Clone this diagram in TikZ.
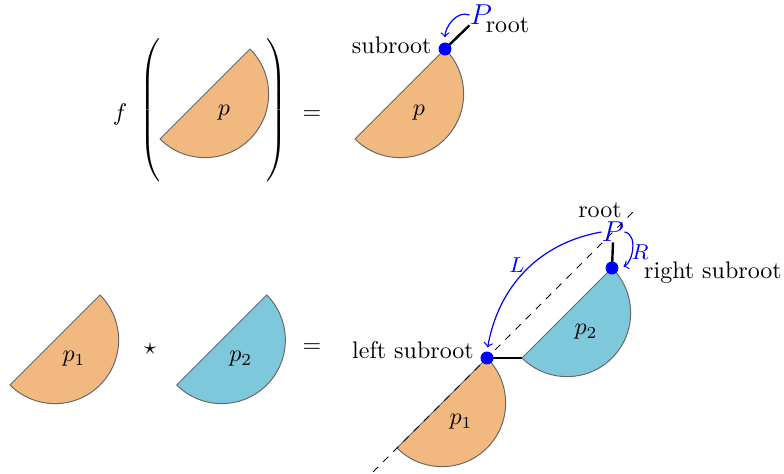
\documentclass[tikz,border=0pt]{standalone}
\usetikzlibrary{calc}
\definecolor{porange}{RGB}{241,185,128}
\definecolor{pblue}{RGB}{126,200,220}
\newcommand\halfdisk[4]{%
  \coordinate (#1) at (#2);
  \filldraw[piece,fill=#3] (#1) arc[start angle=45,end angle=-135,radius=63.64] -- cycle;
  \node (#1lbl) at ($(#1)+(-26,-64)$) {$#4$};
}
\begin{document}
\begin{tikzpicture}[x=0.41667pt,y=0.41667pt,
  dot/.style={circle,fill=blue,inner sep=0pt,minimum size=5.4pt},
  edge/.style={line width=1pt},
  ptr/.style={->,blue,line width=0.5pt},
  piece/.style={draw=black!60,line width=0.4pt},
  lbl/.style={inner sep=0pt},
  bigP/.style={text=blue,font=\large,inner sep=0pt},
  smallblue/.style={text=blue,font=\small,inner sep=0pt},
]
\useasboundingbox (0,0) rectangle (784,474);
% ---------- top row ----------
\node[lbl] (f) at (120,359) {$f$};
\node[lbl] (lp) at (151,362) {$\left(\rule[-29pt]{0pt}{58pt}\right.$};
\node[lbl] (rp) at (276,362) {$\left.\rule[-29pt]{0pt}{58pt}\right)$};
\halfdisk{A}{250,425}{porange}{p}
\node[lbl] (eq1) at (312,359) {$=$};
\halfdisk{B}{445,425}{porange}{p}
\node[bigP] (P1) at (481,459) {$P$};
\draw[edge] (B) -- (P1.south west);
\node[dot] (s1) at (B) {};
\node[lbl,anchor=east] (sub1) at (432,429) {subroot};
\node[lbl] (root1) at (507.5,448.5) {root};
\draw[ptr,shorten >=2pt] (P1.west) to[out=160,in=90] (s1.north);
% ---------- bottom row ----------
\halfdisk{C}{100,179}{porange}{p_1}
\node[lbl] (star) at (150,125) {$\star$};
\halfdisk{D}{266.7,179}{pblue}{p_2}
\node[lbl] (eq2) at (312,126) {$=$};
\halfdisk{E}{487,116}{porange}{p_1}
\halfdisk{F}{612,206}{pblue}{p_2}
\coordinate (F2) at ($(F)+(-90,-90)$);
\node[bigP] (P2) at (613,242) {$P$};
\coordinate (d1) at ($(E)+(-114,-114)$);
\coordinate (d2) at ($(E)+(148,148)$);
\draw[dashed,line width=0.4pt] (d1) -- (d2);
\draw[edge] (E) -- (F2);
\draw[edge] (F) -- (P2.south);
\node[dot] (ld) at (E) {};
\node[dot] (rd) at (F) {};
\node[lbl] (root2) at (600,264) {root};
\node[lbl] (lsub) at (413,124) {left subroot};
\node[lbl] (rsub) at (713,201.5) {right subroot};
\draw[ptr,shorten >=1.5pt] (P2.west) to[out=190,in=80] (ld.north);
\draw[ptr,shorten >=2pt] (P2.east) to[out=-10,in=20] (rd.east);
\node[smallblue] (Llbl) at (517,209) {$L$};
\node[smallblue] (Rlbl) at (640,222) {$R$};
\end{tikzpicture}
\end{document}
